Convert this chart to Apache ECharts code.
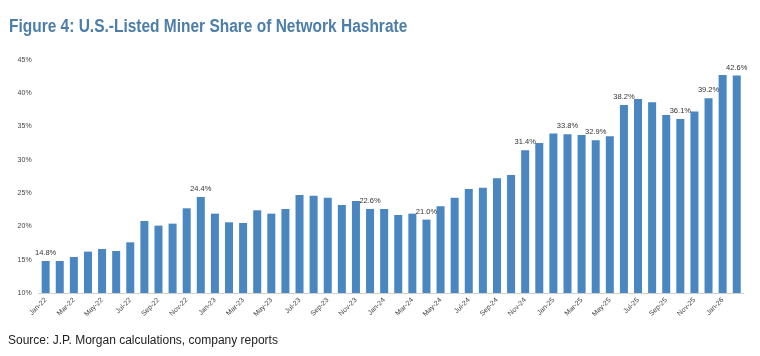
<!DOCTYPE html>
<html>
<head>
<meta charset="utf-8">
<script src="https://cdn.jsdelivr.net/npm/echarts@6/dist/echarts.min.js"></script>
<style>
html,body{margin:0;padding:0;background:#fff;}
#c{width:760px;height:356px;}
</style>
</head>
<body>
<div id="c"></div>
<script>
const titleText = 'Figure 4: U.S.-Listed Miner Share of Network Hashrate';
const sourceText = 'Source: J.P. Morgan calculations, company reports';
const months = ['Jan','Feb','Mar','Apr','May','Jun','Jul','Aug','Sep','Oct','Nov','Dec'];
const categories = [];
for (let y = 22; y <= 26; y++) {
  for (let m = 0; m < 12; m++) {
    if (y === 26 && m > 1) break;
    categories.push(months[m] + '-' + y);
  }
}
const shares = [
  14.8, 14.8, 15.4, 16.2, 16.6, 16.3, 17.6, 20.8, 20.1, 20.4, 22.7, 24.4,
  21.9, 20.6, 20.5, 22.4, 21.9, 22.6, 24.7, 24.6, 24.3, 23.2, 23.8, 22.6,
  22.6, 21.7, 21.9, 21.0, 23.0, 24.3, 25.6, 25.8, 27.2, 27.7, 31.4, 32.5,
  33.9, 33.8, 33.7, 32.9, 33.5, 38.2, 39.1, 38.6, 36.7, 36.1, 37.2, 39.2,
  42.7, 42.6
];
const labelledMonths = ['Jan-22','Dec-22','Dec-23','Apr-24','Nov-24','Feb-25','Apr-25','Jun-25','Oct-25','Dec-25','Feb-26'];
const yTicks = [10, 15, 20, 25, 30, 35, 40, 45];

const chart = echarts.init(document.getElementById('c'), null, {renderer: 'canvas'});
const barColor = '#4a86bf';
chart.setOption({
  animation: false,
  graphic: [{
    type: 'text', left: 9, top: 18, scaleX: 0.86, originX: 0,
    style: {text: titleText, font: 'bold 18px "Liberation Sans", Arial, sans-serif', fill: '#4d7eaa'}
  }, {
    type: 'text', left: 8, top: 335,
    style: {text: sourceText, font: '12px "Liberation Sans", Arial, sans-serif', fill: '#222'}
  }],
  grid: {left: 38.6, right: 16.2, top: 59.6, bottom: 63},
  xAxis: {
    type: 'category', data: categories,
    axisLine: {lineStyle: {color: '#d0d0d0', width: 1}},
    axisTick: {show: false},
    axisLabel: {interval: 1, rotate: 45, fontSize: 7, color: '#444', fontFamily: 'Liberation Sans', margin: 6}
  },
  yAxis: {
    type: 'value', min: yTicks[0], max: yTicks[yTicks.length - 1], interval: 5,
    splitLine: {show: false}, axisLine: {show: false}, axisTick: {show: false},
    axisLabel: {formatter: v => v + '%', fontSize: 7, color: '#444', fontFamily: 'Liberation Sans', margin: 7}
  },
  series: [{
    type: 'bar', barWidth: 8,
    itemStyle: {color: barColor},
    data: shares.map((v, i) => ({
      value: v,
      label: {
        show: labelledMonths.includes(categories[i]),
        position: 'top', distance: 4,
        formatter: p => p.value.toFixed(1) + '%',
        fontSize: 7.5, color: '#333', fontFamily: 'Liberation Sans'
      }
    }))
  }]
});
</script>
</body>
</html>
